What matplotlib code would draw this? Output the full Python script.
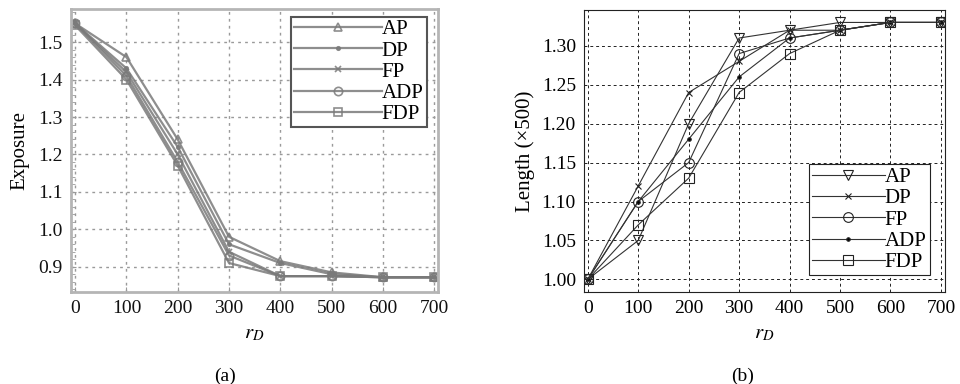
import matplotlib
matplotlib.use("Agg")
import matplotlib.pyplot as plt
from matplotlib.ticker import MultipleLocator

plt.rcParams['font.family'] = ['Liberation Serif', 'DejaVu Serif']
plt.rcParams['mathtext.fontset'] = 'stix'

r_d = [0, 100, 200, 300, 400, 500, 600, 700]
series = ["AP", "DP", "FP", "ADP", "FDP"]

# (a) Exposure
exp_ap = [1.55, 1.46, 1.24, 0.98, 0.915, 0.885, 0.872, 0.872]
exp_dp = [1.55, 1.43, 1.22, 0.96, 0.91, 0.88, 0.872, 0.872]
exp_fp = [1.55, 1.42, 1.20, 0.94, 0.875, 0.875, 0.872, 0.872]
exp_adp = [1.55, 1.41, 1.18, 0.93, 0.875, 0.875, 0.872, 0.872]
exp_fdp = [1.545, 1.40, 1.17, 0.91, 0.875, 0.875, 0.872, 0.872]

# (b) Length (x500)
len_ap = [1.00, 1.05, 1.20, 1.31, 1.32, 1.33, 1.33, 1.33]
len_dp = [1.00, 1.12, 1.24, 1.28, 1.32, 1.32, 1.33, 1.33]
len_fp = [1.00, 1.10, 1.15, 1.29, 1.31, 1.32, 1.33, 1.33]
len_adp = [1.00, 1.10, 1.18, 1.26, 1.31, 1.32, 1.33, 1.33]
len_fdp = [1.00, 1.07, 1.13, 1.24, 1.29, 1.32, 1.33, 1.33]

FS = 14

fig = plt.figure(figsize=(9.6, 3.84), dpi=100)

# ---------- panel (a) ----------
axa = fig.add_axes([0.074, 0.240, 0.382, 0.736])
grey = '#7a7a7a'
mk_a = [('^', 6, 'none'), ('.', 5, grey), ('x', 4, grey), ('o', 6, 'none'), ('s', 6, 'none')]
for name, ys, (m, ms, fc) in zip(series, [exp_ap, exp_dp, exp_fp, exp_adp, exp_fdp], mk_a):
    axa.plot(r_d, ys, color=grey, lw=1.6, alpha=0.85, marker=m, ms=ms,
             mfc=fc, mec=grey, mew=1.2, label=name)
axa.set_xlim(-8, 707)
axa.set_ylim(0.833, 1.588)
axa.set_xticks(range(0, 701, 100))
axa.set_yticks([0.9, 1.0, 1.1, 1.2, 1.3, 1.4, 1.5])
axa.set_yticklabels(['0.9', '1.0', '1.1', '1.2', '1.3', '1.4', '1.5'])
axa.yaxis.set_minor_locator(MultipleLocator(0.02))
axa.grid(True, which='major', ls=(0, (2, 3)), color='#9a9a9a', lw=1.0)
axa.tick_params(which='both', direction='in', colors='#999999', labelcolor='#111111',
                labelsize=FS, pad=6)
axa.tick_params(which='minor', length=3)
for s in axa.spines.values():
    s.set_color('#b5b5b5')
    s.set_linewidth(2)
axa.set_ylabel('Exposure', fontsize=FS + 1, labelpad=6)
axa.set_xlabel('$r_D$', fontsize=FS + 1, labelpad=5)
lega = axa.legend(loc='upper right', bbox_to_anchor=(0.970, 0.974), fontsize=FS + 1,
                  frameon=True, fancybox=False, borderpad=0.15, labelspacing=0.08,
                  handlelength=4.2, handletextpad=0.0, borderaxespad=0.0)
lega.get_frame().set_edgecolor('#555555')
lega.get_frame().set_linewidth(1.5)
lega.get_frame().set_alpha(1)
fig.text(0.234, 0.02, '(a)', ha='center', va='center', fontsize=FS)

# ---------- panel (b) ----------
axb = fig.add_axes([0.6086, 0.240, 0.3757, 0.734])
mk_b = [('v', 7, 'none'), ('x', 4, 'none'), ('o', 7, 'none'), ('.', 5, 'k'), ('s', 7, 'none')]
for name, ys, (m, ms, fc) in zip(series, [len_ap, len_dp, len_fp, len_adp, len_fdp], mk_b):
    axb.plot(r_d, ys, color='#333333', lw=0.8, marker=m, ms=ms, mfc=fc,
             mec='#222222', mew=0.8, label=name)
axb.set_xlim(-7, 708)
axb.set_ylim(0.984, 1.346)
axb.set_xticks(range(0, 701, 100))
axb.set_yticks([1.00, 1.05, 1.10, 1.15, 1.20, 1.25, 1.30])
axb.set_yticklabels(['1.00', '1.05', '1.10', '1.15', '1.20', '1.25', '1.30'])
axb.grid(True, ls=(0, (3, 3)), color='#222222', lw=0.7)
axb.tick_params(direction='in', length=0, labelsize=FS, pad=6)
for s in axb.spines.values():
    s.set_color('#222222')
    s.set_linewidth(0.8)
axb.set_ylabel('Length (×500)', fontsize=FS + 1, labelpad=5)
axb.set_xlabel('$r_D$', fontsize=FS + 1, labelpad=5)
legb = axb.legend(loc='lower right', bbox_to_anchor=(0.958, 0.059), fontsize=FS + 1,
                  frameon=True, fancybox=False, borderpad=0.15, labelspacing=0.08,
                  handlelength=3.5, handletextpad=0.0, borderaxespad=0.0)
legb.get_frame().set_edgecolor('#222222')
legb.get_frame().set_linewidth(0.8)
legb.get_frame().set_alpha(1)
fig.text(0.774, 0.02, '(b)', ha='center', va='center', fontsize=FS)

fig.savefig('out.png', dpi=100)
